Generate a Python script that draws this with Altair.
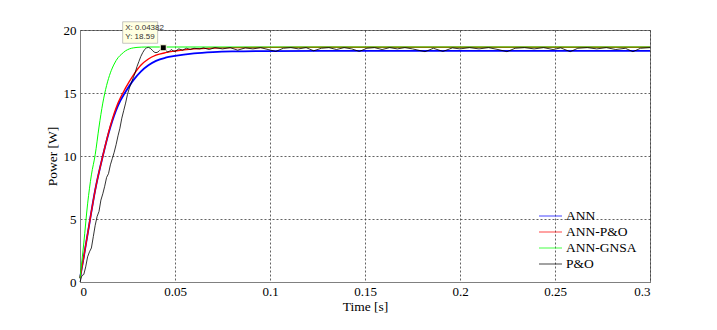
import altair as alt
import pandas as pd

# ---- data ----
t_ann = [0, 0.002, 0.005, 0.008, 0.012, 0.016, 0.02, 0.024, 0.028, 0.032, 0.036, 0.04,
         0.045, 0.05, 0.06, 0.07, 0.08, 0.1, 0.15, 0.3]
p_ann = [0.3, 2.0, 4.7, 7.3, 10.0, 12.3, 14.0, 15.1, 16.0, 16.7, 17.2, 17.55,
         17.8, 17.95, 18.15, 18.25, 18.3, 18.33, 18.34, 18.34]
p_annpo = [0.3, 2.0, 4.7, 7.3, 10.0, 12.4, 14.2, 15.4, 16.4, 17.2, 17.7, 18.0,
           18.2, 18.33, 18.5, 18.57, 18.6, 18.62, 18.63, 18.63]

t_gnsa = [0, 0.002, 0.004, 0.006, 0.008, 0.01, 0.012, 0.014, 0.016, 0.018, 0.02,
          0.022, 0.024, 0.026, 0.028, 0.03, 0.035, 0.04, 0.3]
p_gnsa = [0.3, 3.1, 6.2, 8.5, 10.1, 12.3, 14.2, 15.6, 16.6, 17.3, 17.8,
          18.1, 18.35, 18.5, 18.58, 18.62, 18.65, 18.65, 18.65]

t_po = [0, 0.001, 0.002, 0.003, 0.004, 0.005, 0.006, 0.007, 0.008, 0.009, 0.010,
        0.011, 0.012, 0.013, 0.014, 0.015, 0.016, 0.017, 0.018, 0.019, 0.020,
        0.021, 0.022, 0.023, 0.024, 0.025, 0.026, 0.027, 0.028, 0.029, 0.030,
        0.031, 0.032, 0.033, 0.034, 0.035, 0.036, 0.037, 0.038, 0.039, 0.040,
        0.041, 0.042, 0.043, 0.04382, 0.045, 0.046, 0.047, 0.048, 0.049, 0.050,
        0.052, 0.054, 0.056, 0.058, 0.060, 0.063,
        0.065, 0.068, 0.071, 0.075, 0.079, 0.083, 0.087, 0.091, 0.095, 0.099,
        0.103, 0.107, 0.111, 0.115, 0.119, 0.123, 0.127, 0.131, 0.135, 0.139,
        0.143, 0.147, 0.151, 0.155, 0.159, 0.163, 0.167, 0.171, 0.175, 0.1816,
        0.186, 0.191, 0.196, 0.2, 0.205, 0.21, 0.215, 0.22, 0.2247, 0.229,
        0.234, 0.239, 0.244, 0.249, 0.253, 0.258, 0.262, 0.267, 0.272, 0.277,
        0.282, 0.287, 0.291, 0.295, 0.3]
p_po = [0.0, 0.5, 0.6, 1.2, 2.0, 2.4, 2.7, 3.6, 4.5, 5.2, 5.6,
        6.5, 7.0, 7.6, 8.3, 8.6, 9.3, 9.8, 10.3, 10.9, 11.6,
        12.2, 13.0, 13.6, 14.2, 14.9, 15.4, 15.8, 16.2, 16.6, 17.1,
        17.5, 17.9, 18.2, 18.45, 18.58, 18.62, 18.55, 18.4, 18.25, 18.2,
        18.25, 18.4, 18.55, 18.59, 18.45, 18.25, 18.3, 18.45, 18.35, 18.3,
        18.5, 18.4, 18.55, 18.45, 18.55, 18.5,
        18.58, 18.45, 18.6, 18.5, 18.6, 18.4, 18.58, 18.5, 18.6, 18.45,
        18.3, 18.55, 18.6, 18.5, 18.6, 18.35, 18.55, 18.6, 18.45, 18.6,
        18.5, 18.3, 18.55, 18.6, 18.45, 18.6, 18.5, 18.6, 18.5, 18.28,
        18.55, 18.3, 18.58, 18.5, 18.6, 18.5, 18.6, 18.45, 18.28, 18.55,
        18.6, 18.5, 18.6, 18.45, 18.58, 18.28, 18.55, 18.6, 18.5, 18.6,
        18.45, 18.55, 18.28, 18.55, 18.6]

series_names = ["ANN", "ANN-P&O", "ANN-GNSA", "P&O"]
series_colors = ["#0000FF", "#FF0000", "#00FF00", "#000000"]
series_widths = [1.8, 1.4, 1.0, 0.8]

x_ticks = [0, 0.05, 0.1, 0.15, 0.2, 0.25, 0.3]
y_ticks = [0, 5, 10, 15, 20]

tip_t = [0.04382]
tip_p = [18.59]
tip_line1 = ["X: 0.04382"]
tip_line2 = ["Y: 18.59"]

# ---- build tables ----
frames = [
    pd.DataFrame({"t": t_ann, "p": p_ann, "s": "ANN"}),
    pd.DataFrame({"t": t_ann, "p": p_annpo, "s": "ANN-P&O"}),
    pd.DataFrame({"t": t_gnsa, "p": p_gnsa, "s": "ANN-GNSA"}),
    pd.DataFrame({"t": t_po, "p": p_po, "s": "P&O"}),
]
tip = pd.DataFrame({"t": tip_t, "p": tip_p, "l1": tip_line1, "l2": tip_line2})

SERIF = "Liberation Serif, Times New Roman, serif"

xscale = alt.Scale(domain=[0, 0.3], nice=False, zero=False)
yscale = alt.Scale(domain=[0, 20], nice=False)
cscale = alt.Scale(domain=series_names, range=series_colors)

xaxis = alt.Axis(values=x_ticks, title="Time [s]", labelExpr="datum.value == 0 ? '0' : format(datum.value, '~g')",
                 titleX=285, titleY=24, titleBaseline="middle", labelPadding=3)
yaxis = alt.Axis(values=y_ticks, title="Power [W]", titleX=-28, titleY=126,
                 titleBaseline="middle", titleAlign="center", labelPadding=4)

legend = alt.Legend(orient="none", legendX=458, legendY=178, title=None,
                    symbolType="stroke", symbolSize=529, symbolStrokeWidth=1.2,
                    symbolOpacity=0.6, labelFont=SERIF, labelFontSize=13.5,
                    labelColor="black", rowPadding=0, clipHeight=16, labelOffset=3, padding=0)

layers = []
for i, df in enumerate(frames):
    layers.append(
        alt.Chart(df).mark_line(strokeWidth=series_widths[i], interpolate="monotone" if i < 3 else "linear")
        .encode(
            x=alt.X("t:Q", scale=xscale, axis=xaxis),
            y=alt.Y("p:Q", scale=yscale, axis=yaxis),
            color=alt.Color("s:N", scale=cscale, legend=legend),
        )
    )

box = alt.Chart(tip).mark_rect(fill="#FFFFE1", stroke="#A0A0A0", strokeWidth=0.6,
                               xOffset=-40.6, x2Offset=-5.6, yOffset=-26, y2Offset=-4.5).encode(
    x=alt.X("t:Q", scale=xscale), x2="t:Q",
    y=alt.Y("p:Q", scale=yscale), y2="p:Q")
txt1 = alt.Chart(tip).mark_text(align="left", baseline="middle", dx=-38, dy=-20, fontSize=8,
                                font="Liberation Sans", color="#333333").encode(
    x=alt.X("t:Q", scale=xscale), y=alt.Y("p:Q", scale=yscale), text="l1:N")
txt2 = alt.Chart(tip).mark_text(align="left", baseline="middle", dx=-38, dy=-11, fontSize=8,
                                font="Liberation Sans", color="#333333").encode(
    x=alt.X("t:Q", scale=xscale), y=alt.Y("p:Q", scale=yscale), text="l2:N")
marker = alt.Chart(tip).mark_square(size=36, color="black", stroke="#FFFFE1", strokeWidth=1,
                                    opacity=1).encode(
    x=alt.X("t:Q", scale=xscale), y=alt.Y("p:Q", scale=yscale))

chart = alt.layer(*layers, box, txt1, txt2, marker).properties(
    width=570, height=252,
    autosize=alt.AutoSizeParams(type="none"),
    padding={"left": 72, "top": 22, "right": 59, "bottom": 40},
    background="white",
).configure_view(stroke="#808080", strokeWidth=1).configure_axis(
    labelFont=SERIF, labelFontSize=13, labelColor="black",
    titleFont=SERIF, titleFontSize=13.5, titleFontWeight="normal", titleColor="black",
    grid=True, gridDash=[2, 2], gridColor="#3a3a3a", gridWidth=0.8, gridOpacity=1,
    domainColor="#808080", domainWidth=1, tickSize=0,
)

chart.save("out.html", embed_options={"renderer": "svg", "actions": False})
